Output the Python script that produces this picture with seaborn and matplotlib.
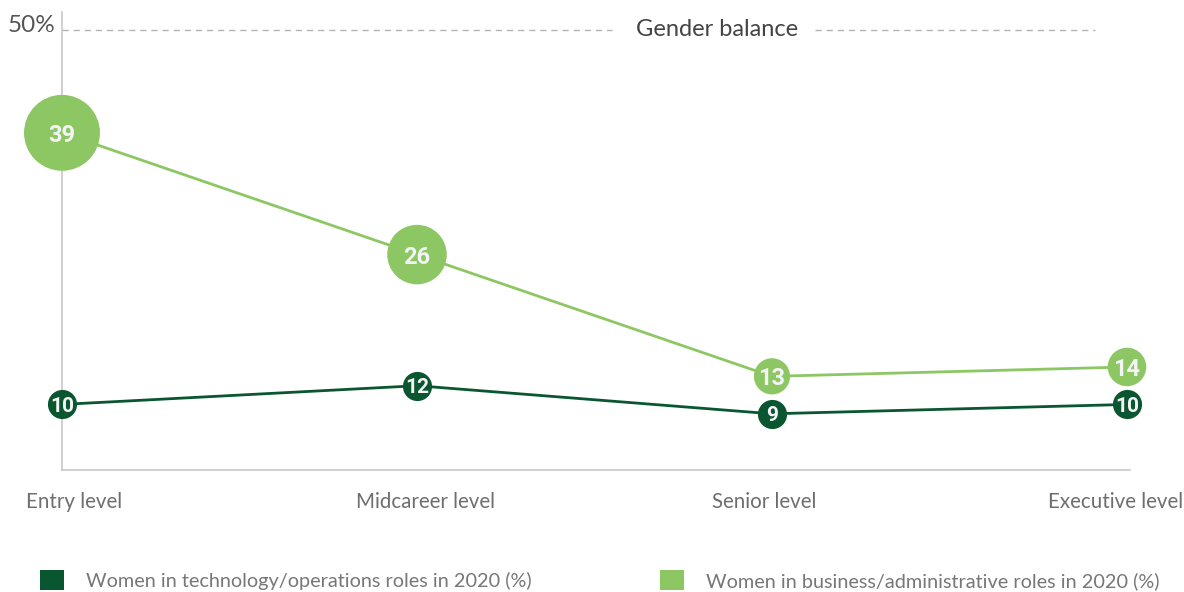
import numpy as np
import pandas as pd
import matplotlib
matplotlib.use("Agg")
import matplotlib.pyplot as plt
import matplotlib.transforms as mtransforms
from matplotlib.patches import Patch
import seaborn as sns

# Données
levels = ["Entry level", "Midcareer level", "Senior level", "Executive level"]
tech_values = [10, 12, 9, 10]
business_values = [39, 26, 13, 14]
tech_label = "Women in technology/operations roles in 2020 (%)"
business_label = "Women in business/administrative roles in 2020 (%)"
balance_value = 50

dark_green = "#0a5631"
light_green = "#8cc764"
grey_text = "#6e6e6e"

df_tech = pd.DataFrame({"x": range(len(levels)), "value": tech_values})
df_bus = pd.DataFrame({"x": range(len(levels)), "value": business_values})

sns.set_style("white")
plt.rcParams["font.family"] = ["Lato", "DejaVu Sans"]
num_font = ["Roboto", "DejaVu Sans"]

fig = plt.figure(figsize=(11.84, 5.92), dpi=100)
ax = fig.add_axes([62 / 1184, 1 - 470 / 592, 1068 / 1184, 458 / 592])

# lignes
sns.lineplot(data=df_bus, x="x", y="value", color=light_green, linewidth=2, ax=ax, zorder=2)
sns.lineplot(data=df_tech, x="x", y="value", color=dark_green, linewidth=2, ax=ax, zorder=2)

# bulles
sns.scatterplot(data=df_bus, x="x", y="value", size="value", sizes=(680, 2990), size_norm=(13, 39),
                color=light_green, linewidth=0, legend=False, ax=ax, zorder=3, clip_on=False)
sns.scatterplot(data=df_tech, x="x", y="value", s=440, color=dark_green, linewidth=0,
                legend=False, ax=ax, zorder=3, clip_on=False)

for i, v in enumerate(business_values):
    ax.text(i, v, str(v), ha="center", va="center_baseline", color="#f4f4f4",
            fontsize=17, fontweight="bold", family=num_font, zorder=5)
for i, v in enumerate(tech_values):
    ax.text(i, v, str(v), ha="center", va="center_baseline", color="#f4f4f4",
            fontsize=15, fontweight="bold", family=num_font, zorder=5)

# ligne "Gender balance"
ax.axhline(balance_value, xmin=0, xmax=0.515, color="#b3b3b3", linewidth=1, dashes=(4.5, 3.5), zorder=1)
ax.axhline(balance_value, xmin=0.705, xmax=0.967, color="#b3b3b3", linewidth=1, dashes=(4.5, 3.5), zorder=1)
ax.text(0.613, balance_value, "Gender balance", transform=ax.get_yaxis_transform(),
        ha="center", va="center", fontsize=17, color="#444444")
ax.annotate(f"{balance_value}%", xy=(0, balance_value), xycoords=ax.get_yaxis_transform(),
            xytext=(-5, 3), textcoords="offset points", ha="right", va="center",
            fontsize=17.5, color="#555555")

ax.set_xlim(0, 3.0085)
ax.set_ylim(3, 51.9)
ax.set_xlabel("")
ax.set_ylabel("")
ax.set_yticks([])
ax.set_xticks(range(len(levels)))
ax.set_xticklabels(levels, fontsize=14.8, color=grey_text)
ax.tick_params(axis="x", length=0, pad=16)

# petits décalages des étiquettes
for lab, dx in zip(ax.get_xticklabels(), [12, 9, -8, -11]):
    lab.set_transform(lab.get_transform() + mtransforms.ScaledTranslation(dx / 100, 0, fig.dpi_scale_trans))

sns.despine(ax=ax, top=True, right=True)
for side in ["left", "bottom"]:
    ax.spines[side].set_color("#c8c8c8")
    ax.spines[side].set_linewidth(1.2)

# légende
for x0, col, lab in [(40 / 1184, dark_green, tech_label), (660 / 1184, light_green, business_label)]:
    fig.legend(handles=[Patch(facecolor=col, edgecolor="none", label=lab)], loc="center left",
               bbox_to_anchor=(x0, 1 - 580 / 592), frameon=False, fontsize=14.3,
               labelcolor="#777777", handlelength=1.2, handleheight=1.2,
               handletextpad=1.1, borderpad=0, borderaxespad=0)

fig.savefig("out.png", dpi=100)
